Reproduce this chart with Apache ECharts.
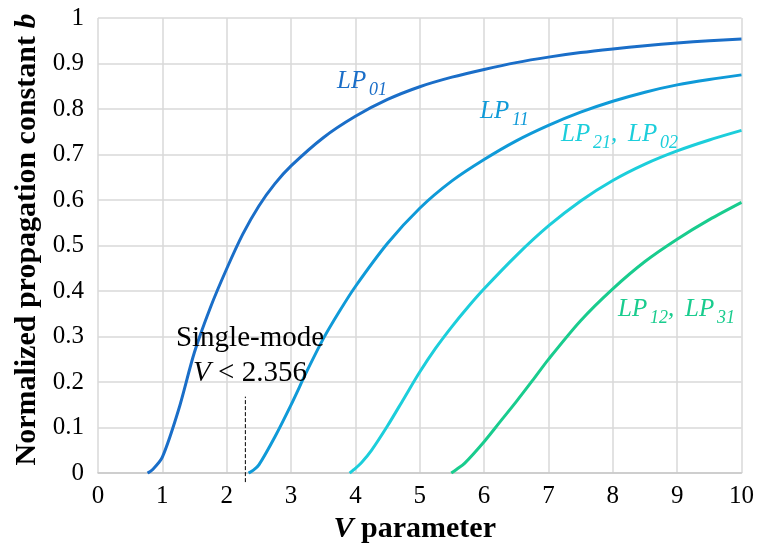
<!DOCTYPE html>
<html>
<head>
<meta charset="utf-8">
<script src="https://cdn.jsdelivr.net/npm/echarts@6/dist/echarts.min.js"></script>
<style>
  html, body { margin: 0; padding: 0; background: #fff; }
  #chart { width: 757px; height: 549px; }
</style>
</head>
<body>
<div id="chart"></div>
<script>
// V parameter / normalized propagation constant b
const lp01V = [0.77, 0.85, 1, 1.25, 1.5, 1.75, 2, 2.25, 2.5, 2.75, 3, 3.5, 4, 4.5, 5, 5.5, 6, 6.5, 7, 7.5, 8, 8.5, 9, 9.5, 10];
const lp01B = [0, 0.008, 0.035, 0.138, 0.266, 0.365, 0.449, 0.525, 0.587, 0.636, 0.675, 0.737, 0.784, 0.821, 0.849, 0.870, 0.887, 0.902, 0.914, 0.924, 0.932, 0.939, 0.945, 0.950, 0.954];

const lp11V = [2.34, 2.42, 2.5, 2.75, 3, 3.25, 3.5, 3.75, 4, 4.5, 5, 5.5, 6, 6.5, 7, 7.5, 8, 8.5, 9, 9.5, 10];
const lp11B = [0, 0.007, 0.018, 0.08, 0.15, 0.225, 0.295, 0.355, 0.41, 0.505, 0.582, 0.642, 0.689, 0.730, 0.764, 0.793, 0.817, 0.837, 0.853, 0.865, 0.875];

const lp21V = [3.91, 3.98, 4.1, 4.25, 4.5, 4.75, 5, 5.25, 5.5, 5.75, 6, 6.5, 7, 7.5, 8, 8.5, 9, 9.5, 10];
const lp21B = [0, 0.008, 0.024, 0.05, 0.104, 0.163, 0.222, 0.275, 0.322, 0.365, 0.405, 0.478, 0.543, 0.598, 0.643, 0.679, 0.708, 0.732, 0.753];

const lp12V = [5.49, 5.57, 5.7, 6, 6.25, 6.5, 6.75, 7, 7.5, 8, 8.5, 9, 9.5, 10];
const lp12B = [0, 0.008, 0.022, 0.069, 0.113, 0.157, 0.203, 0.25, 0.335, 0.405, 0.465, 0.514, 0.557, 0.595];

const cutoffV = 2.29;     // dashed single-mode marker
const cutoffTop = 0.168;

const colors = ['#1a6ec8', '#0f9ad8', '#1ccedb', '#19cc8e'];
const serif = 'Liberation Serif';

function pairs(xs, ys) {
    return xs.map((x, i) => [x, ys[i]]);
}

function line(name, xs, ys, color) {
    return {
        name: name,
        type: 'line',
        smooth: 0.3,
        showSymbol: false,
        data: pairs(xs, ys),
        lineStyle: { color: color, width: 3 },
        itemStyle: { color: color },
        z: 3
    };
}

const chart = echarts.init(document.getElementById('chart'));

chart.setOption({
    animation: false,
    backgroundColor: '#fff',
    grid: { left: 98, right: 14, top: 18, bottom: 74 },
    xAxis: {
        type: 'value',
        min: 0,
        max: 10,
        interval: 1,
        name: '{v|V} parameter',
        nameLocation: 'middle',
        nameGap: 40,
        nameTextStyle: {
            fontFamily: serif, fontSize: 30, fontWeight: 'bold', color: '#000',
            padding: [0, 10, 0, 0],
            rich: {
                v: { fontFamily: serif, fontSize: 30, fontWeight: 'bold', fontStyle: 'italic', color: '#000' }
            }
        },
        axisLine: { show: true, lineStyle: { color: '#c8c8c8', width: 1.5 } },
        axisTick: { show: false },
        axisLabel: { fontFamily: serif, fontSize: 25, color: '#000', margin: 11 },
        splitLine: { show: true, lineStyle: { color: '#d9d9d9', width: 1.5 } }
    },
    yAxis: {
        type: 'value',
        min: 0,
        max: 1,
        interval: 0.1,
        name: '{n|Normalized propagation constant }{b|b}',
        nameLocation: 'middle',
        nameGap: 55,
        nameTextStyle: {
            padding: [0, 0, 0, 12],
            rich: {
                n: { fontFamily: serif, fontSize: 30, fontWeight: 'bold', color: '#000' },
                b: { fontFamily: serif, fontSize: 30, fontWeight: 'bold', fontStyle: 'italic', color: '#000' }
            }
        },
        axisLine: { show: false },
        axisTick: { show: false },
        axisLabel: { fontFamily: serif, fontSize: 25, color: '#000', margin: 14 },
        splitLine: { show: true, lineStyle: { color: '#d9d9d9', width: 1.5 } }
    },
    series: [
        line('LP01', lp01V, lp01B, colors[0]),
        line('LP11', lp11V, lp11B, colors[1]),
        line('LP21, LP02', lp21V, lp21B, colors[2]),
        line('LP12, LP31', lp12V, lp12B, colors[3])
    ]
});

// mode labels "LP" + subscript; y is the baseline of "LP"
function modeLabel(x, y, subs, color) {
    const out = [];
    const big = 25, small = 18;
    subs.forEach((sub, i) => {
        const x0 = x + i * 67;
        if (i > 0) {
            out.push({ type: 'text', x: x0 - 17, y: y - 0.33 * big, style: { text: ',', fontFamily: serif, fontSize: big, fontStyle: 'italic', fill: color, verticalAlign: 'middle' } });
        }
        out.push({ type: 'text', x: x0, y: y - 0.33 * big, style: { text: 'LP', fontFamily: serif, fontSize: big, fontStyle: 'italic', fill: color, verticalAlign: 'middle' } });
        out.push({ type: 'text', x: x0 + 32, y: y + 6 - 0.33 * small, style: { text: sub, fontFamily: serif, fontSize: small, fontStyle: 'italic', fill: color, verticalAlign: 'middle' } });
    });
    return out;
}

const cutBase = chart.convertToPixel({ gridIndex: 0 }, [cutoffV, 0]);
const cutTop = chart.convertToPixel({ gridIndex: 0 }, [cutoffV, cutoffTop]);

let graphics = [];
graphics = graphics.concat(modeLabel(337, 90, ['01'], colors[0]));
graphics = graphics.concat(modeLabel(480, 120, ['11'], colors[1]));
graphics = graphics.concat(modeLabel(561, 143, ['21', '02'], colors[2]));
graphics = graphics.concat(modeLabel(618, 318, ['12', '31'], colors[3]));

graphics.push({
    type: 'line',
    shape: { x1: cutBase[0], y1: cutBase[1] + 9, x2: cutTop[0], y2: cutTop[1] },
    style: { stroke: '#000', lineWidth: 1, lineDash: [4, 2] },
    z: 10
});
graphics.push({
    type: 'text', x: 250, y: 348 - 0.33 * 29,
    style: { text: 'Single-mode', fontFamily: serif, fontSize: 29, fill: '#000', align: 'center', verticalAlign: 'middle' },
    z: 10
});
graphics.push({
    type: 'text', x: 250, y: 383 - 0.33 * 29,
    style: {
        text: '{v|V} < 2.356', align: 'center', verticalAlign: 'middle',
        fontFamily: serif, fontSize: 29, fill: '#000',
        rich: { v: { fontFamily: serif, fontSize: 29, fontStyle: 'italic', fill: '#000' } }
    },
    z: 10
});

chart.setOption({ graphic: graphics });
</script>
</body>
</html>
